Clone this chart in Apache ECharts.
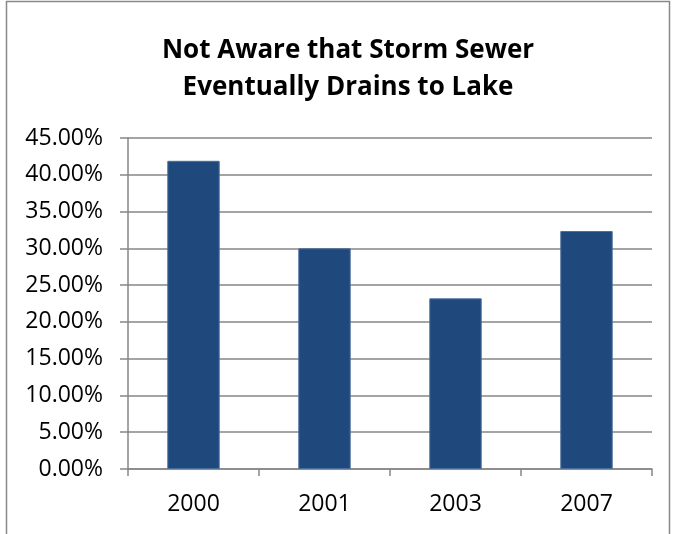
<!DOCTYPE html>
<html>
<head>
<meta charset="utf-8">
<script src="https://cdn.jsdelivr.net/npm/echarts@6/dist/echarts.min.js"></script>
<style>
  html, body { margin: 0; padding: 0; background: #fff; }
  #chart { width: 674px; height: 534px; }
</style>
</head>
<body>
<div id="chart"></div>
<script>
const categories = ['2000', '2001', '2003', '2007']
const values = [0.419, 0.300, 0.232, 0.3235]
const titleLines = ['Not Aware that Storm Sewer', 'Eventually Drains to Lake']

const font = 'Open Sans'
const chart = echarts.init(document.getElementById('chart'))

const option = {
  backgroundColor: '#fff',
  animation: false,
  title: {
    text: titleLines.join('\n'),
    left: 343,
    textAlign: 'center',
    top: 27,
    textStyle: {
      fontFamily: font,
      fontWeight: 'bold',
      fontSize: 26,
      lineHeight: 37,
      color: '#000'
    }
  },
  graphic: [
    {
      type: 'rect',
      shape: { x: 6.5, y: 1.5, width: 663, height: 560 },
      style: { fill: 'none', stroke: '#888', lineWidth: 1.5 },
      silent: true
    }
  ],
  grid: {
    left: 128,
    right: 22,
    top: 138,
    bottom: 65
  },
  xAxis: {
    type: 'category',
    data: categories,
    axisLine: { lineStyle: { color: '#868686', width: 1.5 } },
    axisTick: { show: true, length: 7, lineStyle: { color: '#868686', width: 1.5 } },
    axisLabel: { color: '#000', fontFamily: font, fontSize: 23, margin: 24 }
  },
  yAxis: {
    type: 'value',
    min: 0,
    max: 0.45,
    interval: 0.05,
    axisLine: { show: true, lineStyle: { color: '#868686', width: 1.5 } },
    axisTick: { show: true, length: 8, lineStyle: { color: '#868686', width: 1.5 } },
    splitLine: { lineStyle: { color: '#868686', width: 1.5 } },
    axisLabel: {
      color: '#000',
      fontFamily: font,
      fontSize: 23,
      margin: 25,
      formatter: (v) => (v * 100).toFixed(2) + '%'
    }
  },
  series: [
    {
      type: 'bar',
      data: values,
      barWidth: '40%',
      itemStyle: { color: '#1F497D', borderColor: '#4A6E9A', borderWidth: 1 }
    }
  ]
}

chart.setOption(option)
</script>
</body>
</html>
